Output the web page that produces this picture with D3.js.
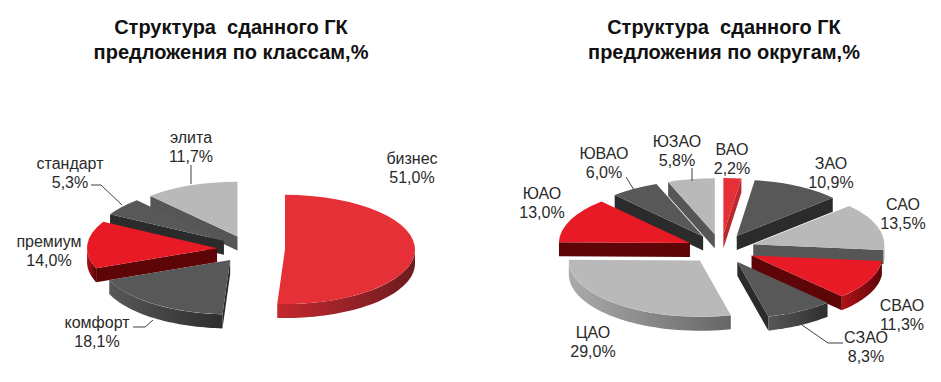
<!DOCTYPE html>
<html>
<head>
<meta charset="utf-8">
<script src="https://cdn.jsdelivr.net/npm/d3@7"></script>
<style>
  html, body { margin: 0; padding: 0; background: #fff; }
  text { font-family: "Liberation Sans", Arial, sans-serif; fill: #1a1a1a; }
  .title { font-size: 20px; font-weight: bold; fill: #111; white-space: pre; }
  .lab { font-size: 16px; fill: #2a2a2a; }
</style>
</head>
<body>
<svg id="vis" width="941" height="382"></svg>
<script>
// values
const classLabels = ['бизнес', 'комфорт', 'премиум', 'стандарт', 'элита']
const classValues = [51.0, 18.1, 14.0, 5.3, 11.7]
const classKinds = ['accent', 'dark', 'red', 'dark', 'light']

const districtLabels = ['ВАО', 'ЗАО', 'САО', 'СВАО', 'СЗАО', 'ЦАО', 'ЮАО', 'ЮВАО', 'ЮЗАО']
const districtValues = [2.2, 10.9, 13.5, 11.3, 8.3, 29.0, 13.0, 6.0, 5.8]
const districtKinds = ['accent', 'dark', 'light', 'red', 'dark', 'light', 'red', 'dark', 'light']

const titleLines = ['Структура  сданного ГК']
const classTitle = 'предложения по классам,%'
const districtTitle = 'предложения по округам,%'

// colours of each slice type: top face, cut face, rim gradient left -> right
const looks = {
  accent: { top: '#e63038', cut: '#b8282e', rim: ['#c4282e', '#6c1c20'] },
  red: { top: '#e81a25', cut: '#5e0508', rim: ['#b01218', '#5a0508'] },
  dark: { top: '#585858', cut: '#2b2b2b', rim: ['#575757', '#2e2e2e'] },
  light: { top: '#b9b9b9', cut: '#565656', rim: ['#ababab', '#666666'] }
}

// where the two pies sit, burst = how far each slice is pulled out
const classPie = { cx: 249, cy: 249, r: 130, tilt: 0.42, depth: 14, bursts: [36, 32, 32, 32, 32], titleX: 231 }
const districtPie = { cx: 721, cy: 249, r: 131, tilt: 0.43, depth: 14, bursts: [34, 34, 34, 34, 34, 34, 34, 34, 34], titleX: 724 }

// label centre x, y of the first line
const classLabelPos = [[412, 158], [97, 322], [49, 241], [70, 163], [191, 137]]
const districtLabelPos = [[732, 149], [831, 163], [903, 204], [902, 305], [866, 337], [593, 332], [542, 193], [604, 153], [677, 141]]

// leader lines
const classLeaders = [
  [[191, 165], [191, 184]],
  [[91, 185], [101, 185], [122, 205]],
  [[133, 327], [145, 327], [153, 320]]
]
const districtLeaders = [
  [[692, 168], [692, 181]],
  [[626, 177], [634, 190]],
  [[802, 325], [828, 343], [843, 343]]
]

const svg = d3.select('#vis')
const defs = svg.append('defs')

Object.keys(looks).forEach(kind => {
  const grad = defs.append('linearGradient').attr('id', 'rim-' + kind)
  grad.append('stop').attr('offset', '0%').attr('stop-color', looks[kind].rim[0])
  grad.append('stop').attr('offset', '100%').attr('stop-color', looks[kind].rim[1])
})

const line = d3.line()

function drawPie(conf, labels, values, kinds, labelPos, leaders, title2) {
  const g = svg.append('g')

  const pie = d3.pie().sort(null).value(d => d)
  const arc = d3.arc().innerRadius(0).outerRadius(conf.r)

  const slices = pie(values).map((d, i) => {
    const mid = (d.startAngle + d.endAngle) / 2
    return {
      ...d,
      kind: kinds[i],
      ax: conf.cx + conf.bursts[i] * Math.sin(mid),
      ay: conf.cy - conf.bursts[i] * conf.tilt * Math.cos(mid)
    }
  })

  // painter's order, back slices first
  slices.sort((a, b) => a.ay - b.ay)

  const px = (s, t) => s.ax + conf.r * Math.sin(t)
  const py = (s, t) => s.ay - conf.r * conf.tilt * Math.cos(t)

  slices.forEach(s => {
    const look = looks[s.kind]
    const sg = g.append('g')

    // cut faces that look at the viewer
    const faces = []
    if (Math.sin(s.startAngle) < -1e-6) faces.push(s.startAngle)
    if (Math.sin(s.endAngle) > 1e-6) faces.push(s.endAngle)
    faces.forEach(t => {
      sg.append('path')
        .attr('d', line([
          [s.ax, s.ay],
          [px(s, t), py(s, t)],
          [px(s, t), py(s, t) + conf.depth],
          [s.ax, s.ay + conf.depth]
        ]) + 'Z')
        .attr('fill', look.cut)
    })

    // outer rim, only the part facing front
    const from = Math.max(s.startAngle, Math.PI / 2)
    const to = Math.min(s.endAngle, Math.PI * 1.5)
    if (to > from) {
      const steps = d3.range(0, 41).map(k => from + (to - from) * k / 40)
      const upper = steps.map(t => [px(s, t), py(s, t)])
      const lower = steps.slice().reverse().map(t => [px(s, t), py(s, t) + conf.depth])
      sg.append('path')
        .attr('d', line(upper.concat(lower)) + 'Z')
        .attr('fill', `url(#rim-${s.kind})`)
    }

    // top face
    sg.append('path')
      .attr('d', arc(s))
      .attr('transform', `translate(${s.ax},${s.ay}) scale(1,${conf.tilt})`)
      .attr('fill', look.top)
  })

  leaders.forEach(l => {
    g.append('path')
      .attr('d', line(l))
      .attr('fill', 'none')
      .attr('stroke', '#404040')
      .attr('stroke-width', 1)
  })

  labels.forEach((name, i) => {
    const [x, y] = labelPos[i]
    const txt = g.append('text').attr('class', 'lab').attr('text-anchor', 'middle')
    txt.append('tspan').attr('x', x).attr('y', y + 6).text(name)
    txt.append('tspan').attr('x', x).attr('y', y + 25)
      .text(d3.format('.1f')(values[i]).replace('.', ',') + '%')
  })

  const t = svg.append('text').attr('class', 'title').attr('text-anchor', 'middle')
  t.append('tspan').attr('x', conf.titleX).attr('y', 34).text(titleLines[0])
  t.append('tspan').attr('x', conf.titleX).attr('y', 59).text(title2)
}

drawPie(classPie, classLabels, classValues, classKinds, classLabelPos, classLeaders, classTitle)
drawPie(districtPie, districtLabels, districtValues, districtKinds, districtLabelPos, districtLeaders, districtTitle)
</script>
</body>
</html>
